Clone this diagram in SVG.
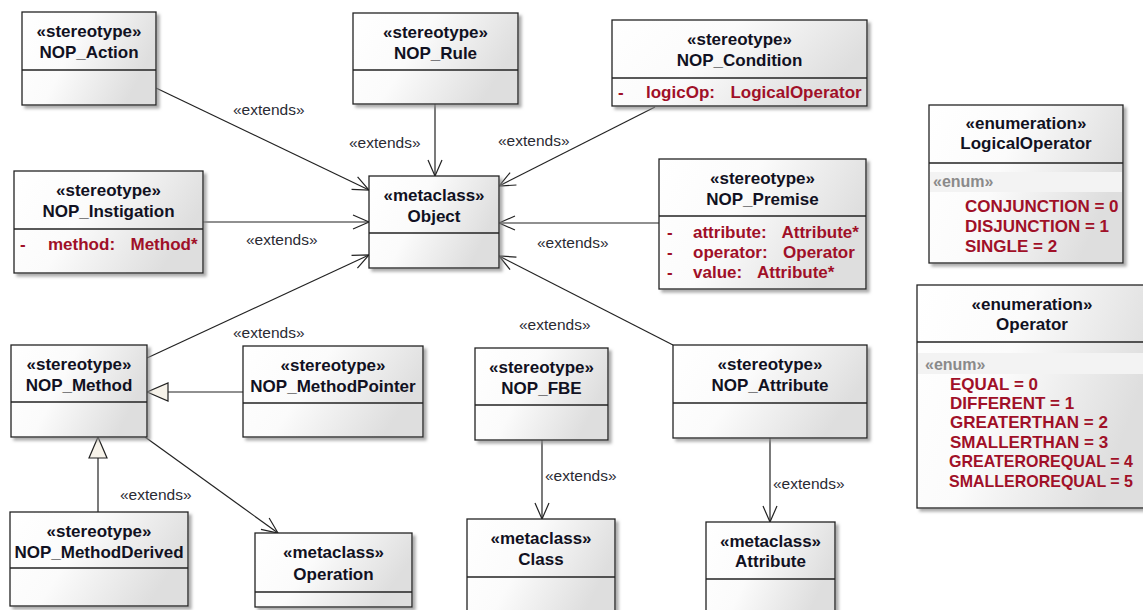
<svg xmlns="http://www.w3.org/2000/svg" width="1143" height="610" viewBox="0 0 1143 610">
  <defs>
    <linearGradient id="boxFill" x1="0" y1="0" x2="1" y2="0.35">
      <stop offset="0" stop-color="#ffffff"/>
      <stop offset="0.45" stop-color="#fbfbfb"/>
      <stop offset="1" stop-color="#dedede"/>
    </linearGradient>
    <filter id="shadow" x="-10%" y="-10%" width="130%" height="130%">
      <feDropShadow dx="3" dy="3" stdDeviation="1.5" flood-color="#888888" flood-opacity="0.7"/>
    </filter>
    <marker id="openArrow" viewBox="-18 -10 20 20" refX="0" refY="0" markerWidth="20" markerHeight="20" markerUnits="userSpaceOnUse" orient="auto">
      <path d="M-16,-7 L0,0 L-16,7" fill="none" stroke="#222" stroke-width="1.2"/>
    </marker>
    <marker id="genTriangle" viewBox="-23 -11 25 22" refX="0" refY="0" markerWidth="25" markerHeight="22" markerUnits="userSpaceOnUse" orient="auto">
      <path d="M0,0 L-21,-9 L-21,9 Z" fill="#f7f3ea" stroke="#222" stroke-width="1.2"/>
    </marker>
  </defs>
  <style>
    .box { fill: url(#boxFill); stroke: #222; stroke-width: 1.3; filter: url(#shadow); }
    .div { stroke: #222; stroke-width: 1.3; }
    .hdr { font-family: "Liberation Sans", Arial, sans-serif; font-weight: bold; font-size: 17px; fill: #111122; text-anchor: middle; }
    .attr { font-family: "Liberation Sans", Arial, sans-serif; font-weight: bold; font-size: 17px; fill: #a01028; white-space: pre; }
    .field { word-spacing: 3px; }
    .enumTag { font-family: "Liberation Sans", Arial, sans-serif; font-weight: bold; font-size: 16px; fill: #8a8a8a; }
    .band { fill: #f3f3f3; }
    .lbl { font-family: "Liberation Sans", Arial, sans-serif; font-size: 15.5px; fill: #2a2a33; }
    .conn { stroke: #222; stroke-width: 1.2; fill: none; }
    .ext { marker-end: url(#openArrow); }
    .gen { marker-end: url(#genTriangle); }
  </style>

  <!-- connectors -->
  <g id="connectors">
    <line class="conn ext" x1="156" y1="88" x2="369" y2="190"/>
    <line class="conn ext" x1="435" y1="104" x2="435" y2="176"/>
    <line class="conn ext" x1="655" y1="107" x2="499" y2="186"/>
    <line class="conn ext" x1="203" y1="222" x2="369" y2="222"/>
    <line class="conn ext" x1="659" y1="223" x2="499" y2="223"/>
    <line class="conn ext" x1="147" y1="358" x2="369" y2="255"/>
    <line class="conn ext" x1="673" y1="345" x2="499" y2="256"/>
    <line class="conn ext" x1="145" y1="437" x2="278" y2="533"/>
    <line class="conn ext" x1="542" y1="440" x2="542" y2="519"/>
    <line class="conn ext" x1="770" y1="438" x2="770" y2="522"/>
    <line class="conn gen" x1="243" y1="392" x2="147" y2="392"/>
    <line class="conn gen" x1="98" y1="512" x2="98" y2="437"/>

    <text class="lbl" x="233" y="115">«extends»</text>
    <text class="lbl" x="349" y="148">«extends»</text>
    <text class="lbl" x="498" y="146">«extends»</text>
    <text class="lbl" x="246" y="245">«extends»</text>
    <text class="lbl" x="537" y="248">«extends»</text>
    <text class="lbl" x="233" y="338">«extends»</text>
    <text class="lbl" x="519" y="330">«extends»</text>
    <text class="lbl" x="120" y="500">«extends»</text>
    <text class="lbl" x="545" y="481">«extends»</text>
    <text class="lbl" x="773" y="489">«extends»</text>
  </g>

  <!-- stereotypes and metaclasses -->
  <g id="nop-action">
    <rect class="box" x="22" y="12" width="134" height="93"/>
    <line class="div" x1="22" y1="70" x2="156" y2="70"/>
    <text class="hdr" x="89" y="37">«stereotype»</text>
    <text class="hdr" x="89" y="58">NOP_Action</text>
  </g>

  <g id="nop-rule">
    <rect class="box" x="353" y="13" width="165" height="91"/>
    <line class="div" x1="353" y1="70" x2="518" y2="70"/>
    <text class="hdr" x="435.5" y="38">«stereotype»</text>
    <text class="hdr" x="435.5" y="59">NOP_Rule</text>
  </g>

  <g id="nop-condition">
    <rect class="box" x="612" y="20" width="255" height="86"/>
    <line class="div" x1="612" y1="78" x2="867" y2="78"/>
    <text class="hdr" x="739.5" y="45">«stereotype»</text>
    <text class="hdr" x="739.5" y="66">NOP_Condition</text>
    <text class="attr" x="618" y="98">-</text>
    <text class="attr field" x="646" y="98">logicOp:  LogicalOperator</text>
  </g>

  <g id="nop-instigation">
    <rect class="box" x="14" y="171" width="189" height="102"/>
    <line class="div" x1="14" y1="229" x2="203" y2="229"/>
    <text class="hdr" x="108.5" y="196">«stereotype»</text>
    <text class="hdr" x="108.5" y="217">NOP_Instigation</text>
    <text class="attr" x="20" y="250">-</text>
    <text class="attr field" x="48" y="250">method:  Method*</text>
  </g>

  <g id="metaclass-object">
    <rect class="box" x="369" y="176" width="130" height="92"/>
    <line class="div" x1="369" y1="233" x2="499" y2="233"/>
    <text class="hdr" x="434" y="201">«metaclass»</text>
    <text class="hdr" x="434" y="222">Object</text>
  </g>

  <g id="nop-premise">
    <rect class="box" x="659" y="159" width="207" height="130"/>
    <line class="div" x1="659" y1="216" x2="866" y2="216"/>
    <text class="hdr" x="762.5" y="184">«stereotype»</text>
    <text class="hdr" x="762.5" y="205">NOP_Premise</text>
    <text class="attr" x="667" y="238">-</text>
    <text class="attr field" x="693" y="238">attribute:  Attribute*</text>
    <text class="attr" x="667" y="258">-</text>
    <text class="attr field" x="693" y="258">operator:  Operator</text>
    <text class="attr" x="667" y="278">-</text>
    <text class="attr field" x="693" y="278">value:  Attribute*</text>
  </g>

  <g id="enum-logicaloperator">
    <rect class="box" x="929" y="105" width="194" height="158"/>
    <line class="div" x1="929" y1="163" x2="1123" y2="163"/>
    <rect class="band" x="930" y="172" width="192" height="20"/>
    <text class="hdr" x="1026" y="129">«enumeration»</text>
    <text class="hdr" x="1026" y="149">LogicalOperator</text>
    <text class="enumTag" x="933" y="187">«enum»</text>
    <text class="attr" x="965" y="212">CONJUNCTION = 0</text>
    <text class="attr" x="965" y="232">DISJUNCTION = 1</text>
    <text class="attr" x="965" y="252">SINGLE = 2</text>
  </g>

  <g id="enum-operator">
    <rect class="box" x="917" y="285" width="233" height="223"/>
    <line class="div" x1="917" y1="342" x2="1150" y2="342"/>
    <rect class="band" x="918" y="353" width="230" height="21"/>
    <text class="hdr" x="1032" y="310">«enumeration»</text>
    <text class="hdr" x="1032" y="330">Operator</text>
    <text class="enumTag" x="925" y="370">«enum»</text>
    <text class="attr" x="950" y="390">EQUAL = 0</text>
    <text class="attr" x="950" y="409">DIFFERENT = 1</text>
    <text class="attr" x="950" y="428">GREATERTHAN = 2</text>
    <text class="attr" x="950" y="448">SMALLERTHAN = 3</text>
    <text class="attr" x="949" y="467" textLength="184" lengthAdjust="spacingAndGlyphs">GREATEROREQUAL = 4</text>
    <text class="attr" x="949" y="487" textLength="184" lengthAdjust="spacingAndGlyphs">SMALLEROREQUAL = 5</text>
  </g>

  <g id="nop-method">
    <rect class="box" x="11" y="345" width="136" height="92"/>
    <line class="div" x1="11" y1="402" x2="147" y2="402"/>
    <text class="hdr" x="79" y="370">«stereotype»</text>
    <text class="hdr" x="79" y="391">NOP_Method</text>
  </g>

  <g id="nop-methodpointer">
    <rect class="box" x="243" y="346" width="180" height="91"/>
    <line class="div" x1="243" y1="403" x2="423" y2="403"/>
    <text class="hdr" x="333" y="371">«stereotype»</text>
    <text class="hdr" x="333" y="392">NOP_MethodPointer</text>
  </g>

  <g id="nop-methodderived">
    <rect class="box" x="10" y="512" width="178" height="94"/>
    <line class="div" x1="10" y1="568" x2="188" y2="568"/>
    <text class="hdr" x="99" y="537">«stereotype»</text>
    <text class="hdr" x="99" y="558">NOP_MethodDerived</text>
  </g>

  <g id="metaclass-operation">
    <rect class="box" x="255" y="533" width="157" height="74"/>
    <line class="div" x1="255" y1="592" x2="412" y2="592"/>
    <text class="hdr" x="333.5" y="558">«metaclass»</text>
    <text class="hdr" x="333.5" y="580">Operation</text>
  </g>

  <g id="nop-fbe">
    <rect class="box" x="475" y="348" width="133" height="92"/>
    <line class="div" x1="475" y1="405" x2="608" y2="405"/>
    <text class="hdr" x="541.5" y="373">«stereotype»</text>
    <text class="hdr" x="541.5" y="394">NOP_FBE</text>
  </g>

  <g id="metaclass-class">
    <rect class="box" x="467" y="519" width="148" height="100"/>
    <line class="div" x1="467" y1="577" x2="615" y2="577"/>
    <text class="hdr" x="541" y="544">«metaclass»</text>
    <text class="hdr" x="541" y="565">Class</text>
  </g>

  <g id="nop-attribute">
    <rect class="box" x="673" y="345" width="194" height="93"/>
    <line class="div" x1="673" y1="403" x2="867" y2="403"/>
    <text class="hdr" x="770" y="370">«stereotype»</text>
    <text class="hdr" x="770" y="391">NOP_Attribute</text>
  </g>

  <g id="metaclass-attribute">
    <rect class="box" x="706" y="522" width="129" height="100"/>
    <line class="div" x1="706" y1="579" x2="835" y2="579"/>
    <text class="hdr" x="770.5" y="547">«metaclass»</text>
    <text class="hdr" x="770.5" y="567">Attribute</text>
  </g>
</svg>
